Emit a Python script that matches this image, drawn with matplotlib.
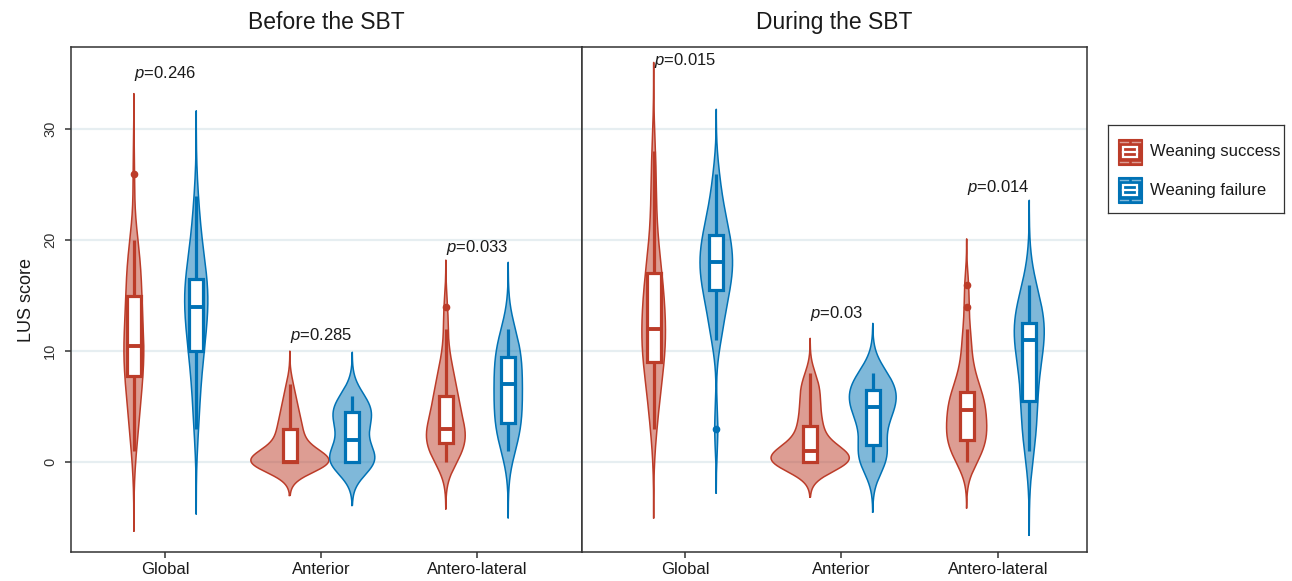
import numpy as np
import matplotlib
matplotlib.use("Agg")
import matplotlib.pyplot as plt
from matplotlib.patches import Rectangle

plt.rcParams['font.family'] = ['Liberation Sans', 'DejaVu Sans']
plt.rcParams['mathtext.fontset'] = 'custom'
plt.rcParams['mathtext.it'] = 'Liberation Sans:italic'
plt.rcParams['mathtext.rm'] = 'Liberation Sans'

# ---------------- data ----------------
categories = ["Global", "Anterior", "Antero-lateral"]
groups = ["Weaning success", "Weaning failure"]
panel_titles = ["Before the SBT", "During the SBT"]

# LUS score distributions (score: number of patients)
before_success_global = {1: 1, 2: 1, 3: 1, 4: 1, 5: 2, 6: 2, 7: 2, 8: 2, 9: 3, 10: 3, 11: 3, 12: 2,
                         13: 2, 14: 2, 15: 2, 16: 2, 17: 2, 18: 2, 19: 1, 20: 2, 26: 1}
before_success_anterior = {0: 18, 1: 3, 2: 3, 3: 3, 4: 2, 5: 2, 6: 1, 7: 1}
before_success_anterolateral = {0: 3, 1: 4, 2: 5, 3: 5, 4: 3, 5: 3, 6: 3, 7: 2, 8: 2, 9: 1, 10: 1,
                                12: 1, 14: 1}
before_failure_global = {3: 1, 4: 1, 6: 1, 7: 1, 8: 1, 9: 1, 10: 2, 11: 2, 12: 2, 13: 2, 14: 3,
                         15: 3, 16: 3, 17: 2, 18: 2, 19: 1, 20: 1, 21: 1, 22: 1, 24: 1}
before_failure_anterior = {0: 9, 1: 2, 2: 2, 3: 2, 4: 4, 5: 4, 6: 2}
before_failure_anterolateral = {1: 1, 2: 2, 3: 2, 4: 2, 5: 2, 6: 2, 7: 2, 8: 2, 9: 2, 10: 2, 11: 2, 12: 1}

during_success_global = {3: 1, 4: 1, 5: 1, 6: 1, 7: 1, 8: 2, 9: 2, 10: 3, 11: 2, 12: 3, 13: 2, 14: 2,
                         15: 2, 16: 2, 17: 2, 18: 1, 19: 1, 20: 1, 22: 1, 24: 1, 26: 1, 28: 1}
during_success_anterior = {0: 14, 1: 7, 2: 2, 3: 3, 4: 2, 5: 2, 6: 2, 7: 2, 8: 1}
during_success_anterolateral = {0: 3, 1: 3, 2: 5, 3: 4, 4: 4, 5: 4, 6: 4, 7: 2, 8: 2, 9: 1, 10: 1,
                                11: 1, 12: 1, 14: 1, 16: 1}
during_failure_global = {3: 1, 11: 1, 12: 1, 13: 1, 14: 1, 15: 2, 16: 2, 17: 2, 18: 3, 19: 2, 20: 2,
                         21: 2, 22: 1, 23: 1, 24: 1, 26: 1}
during_failure_anterior = {0: 3, 1: 2, 2: 1, 3: 1, 4: 2, 5: 3, 6: 3, 7: 3, 8: 2}
during_failure_anterolateral = {1: 1, 2: 1, 3: 1, 4: 1, 5: 1, 6: 1, 7: 1, 8: 1, 9: 1, 10: 2, 11: 2,
                                12: 3, 13: 2, 14: 2, 15: 1, 16: 1}

# kernel bandwidths per category
before_success_bw = [2.4, 1.0, 1.4]
before_failure_bw = [2.55, 1.3, 2.0]
during_success_bw = [2.67, 1.05, 1.37]
during_failure_bw = [1.93, 1.5, 2.53]

# box statistics: (lower whisker, Q1, median, Q3, upper whisker)
before_success_box = [(1, 7.75, 10.5, 15, 20), (0, 0, 0, 3, 7), (0, 1.75, 3, 6, 12)]
before_success_fliers = [[26], [], [14]]
before_failure_box = [(3, 10, 14, 16.5, 24), (0, 0, 2, 4.5, 6), (1, 3.5, 7, 9.5, 12)]
before_failure_fliers = [[], [], []]
during_success_box = [(3, 9, 12, 17, 28), (0, 0, 1, 3.25, 8), (0, 2, 4.7, 6.3, 12)]
during_success_fliers = [[], [], [14, 16]]
during_failure_box = [(11, 15.5, 18, 20.5, 26), (0, 1.5, 5, 6.5, 8), (1, 5.5, 11, 12.5, 16)]
during_failure_fliers = [[3], [], []]

before_p = ["0.246", "0.285", "0.033"]
before_p_y = [35.0, 11.4, 19.3]
during_p = ["0.015", "0.03", "0.014"]
during_p_y = [36.2, 13.4, 24.7]

# ---------------- style ----------------
colors = ["#BC3C29", "#0072B5"]
dodge = 0.2
max_half_width = 0.25
box_width = 0.09
spine_col = "#333333"
W, H = 1292, 581

panels = [
    dict(title=panel_titles[0],
         dists=[[before_success_global, before_success_anterior, before_success_anterolateral],
                [before_failure_global, before_failure_anterior, before_failure_anterolateral]],
         bws=[before_success_bw, before_failure_bw],
         boxes=[before_success_box, before_failure_box],
         fliers=[before_success_fliers, before_failure_fliers],
         p=before_p, py=before_p_y, xlim=(0.397, 3.673),
         rect=[71 / W, 1 - 552 / H, 511 / W, 505 / H]),
    dict(title=panel_titles[1],
         dists=[[during_success_global, during_success_anterior, during_success_anterolateral],
                [during_failure_global, during_failure_anterior, during_failure_anterolateral]],
         bws=[during_success_bw, during_failure_bw],
         boxes=[during_success_box, during_failure_box],
         fliers=[during_success_fliers, during_failure_fliers],
         p=during_p, py=during_p_y, xlim=(0.342, 3.569),
         rect=[582 / W, 1 - 552 / H, 505 / W, 505 / H]),
]


def kde(counts, bw):
    v = np.array(list(counts.keys()), float)
    c = np.array(list(counts.values()), float)
    y = np.linspace(v.min() - 3 * bw, v.max() + 3 * bw, 512)
    d = (c[None, :] * np.exp(-0.5 * ((y[:, None] - v[None, :]) / bw) ** 2)).sum(1)
    d /= c.sum() * bw * np.sqrt(2 * np.pi)
    return y, d


fig = plt.figure(figsize=(W / 100, H / 100), dpi=100)

for pi, pan in enumerate(panels):
    ax = fig.add_axes(pan["rect"])
    dens = [[kde(pan["dists"][g][c], pan["bws"][g][c]) for c in range(3)] for g in range(2)]
    dmax = max(d.max() for row in dens for (_, d) in row)
    for g in range(2):
        col = colors[g]
        offset = -dodge if g == 0 else dodge
        for c in range(3):
            xc = c + 1 + offset
            y, d = dens[g][c]
            hw = d / dmax * max_half_width
            ax.fill_betweenx(y, xc - hw, xc + hw, facecolor=col, alpha=0.5, lw=0, zorder=2)
            ax.plot(np.r_[xc - hw, (xc + hw)[::-1], (xc - hw)[:1]], np.r_[y, y[::-1], y[:1]],
                    color=col, lw=1.1, zorder=3)
            lo, q1, med, q3, hi = pan["boxes"][g][c]
            st = dict(whislo=lo, q1=q1, med=med, q3=q3, whishi=hi, fliers=pan["fliers"][g][c])
            ax.bxp([st], positions=[xc], widths=box_width, patch_artist=True, showcaps=False,
                   manage_ticks=False, zorder=4,
                   boxprops=dict(facecolor="white", edgecolor=col, linewidth=2.3),
                   whiskerprops=dict(color=col, linewidth=2.3, solid_capstyle="butt"),
                   medianprops=dict(color=col, linewidth=2.8, solid_capstyle="butt"),
                   flierprops=dict(marker="o", markerfacecolor=col, markeredgecolor=col,
                                   markersize=4.5))
    for c in range(3):
        ax.text(c + 1 - dodge, pan["py"][c], r"$\it{p}$=" + pan["p"][c], fontsize=12,
                ha="left", va="center", color="#1a1a1a", zorder=6)

    ax.set_xlim(*pan["xlim"])
    ax.set_ylim(-8.1, 37.4)
    ax.set_xticks([1, 2, 3])
    ax.set_xticklabels(categories, fontsize=12, color="#1a1a1a")
    ax.set_yticks([0, 10, 20, 30])
    ax.yaxis.grid(True, color="#E6EEF1", linewidth=1.6)
    ax.set_axisbelow(True)
    for s in ax.spines.values():
        s.set_color(spine_col)
        s.set_linewidth(1.1)
    ax.tick_params(axis="x", length=4, width=1.1, color=spine_col, pad=3)
    if pi == 0:
        ax.set_yticklabels(["0", "10", "20", "30"], rotation=90, va="center", fontsize=10.5,
                           color="#333333")
        ax.tick_params(axis="y", length=4, width=1.1, color=spine_col, pad=6)
        ax.set_ylabel("LUS score", fontsize=13, labelpad=6, color="#1a1a1a")
    else:
        ax.tick_params(axis="y", left=False, labelleft=False)
    ax.set_title(pan["title"], fontsize=16.5, pad=13, color="#1a1a1a")

# ---------------- legend (drawn in its own pixel-scaled box) ----------------
lx0, ly0, lw_, lh_ = 1108, 125, 176, 88
lax = fig.add_axes([lx0 / W, 1 - (ly0 + lh_) / H, lw_ / W, lh_ / H])
lax.set_xlim(0, lw_)
lax.set_ylim(lh_, 0)
lax.set_xticks([])
lax.set_yticks([])
for s in lax.spines.values():
    s.set_color(spine_col)
    s.set_linewidth(0.9)
key_w, key_h = 24, 26
for i, (lab, col) in enumerate(zip(groups, colors)):
    kx, ky = 10, 14 + i * 38
    lax.add_patch(Rectangle((kx, ky), key_w, key_h, facecolor=col, edgecolor=col, lw=0.8))
    bx0, by0 = kx + 0.2 * key_w, ky + 0.3 * key_h
    lax.add_patch(Rectangle((bx0, by0), 0.6 * key_w, 0.4 * key_h, facecolor="none",
                            edgecolor="white", lw=1.6))
    lax.plot([bx0, bx0 + 0.6 * key_w], [ky + key_h / 2] * 2, color="white", lw=1.6)
    for yy in (0.12, 0.88):
        for xs in ((0.1, 0.42), (0.58, 0.9)):
            lax.plot([kx + xs[0] * key_w, kx + xs[1] * key_w], [ky + yy * key_h] * 2,
                     color="white", alpha=0.5, lw=1.0)
    lax.text(kx + key_w + 8, ky + key_h / 2, lab, fontsize=12, ha="left", va="center",
             color="#1a1a1a")

fig.savefig("out.png", dpi=100)
